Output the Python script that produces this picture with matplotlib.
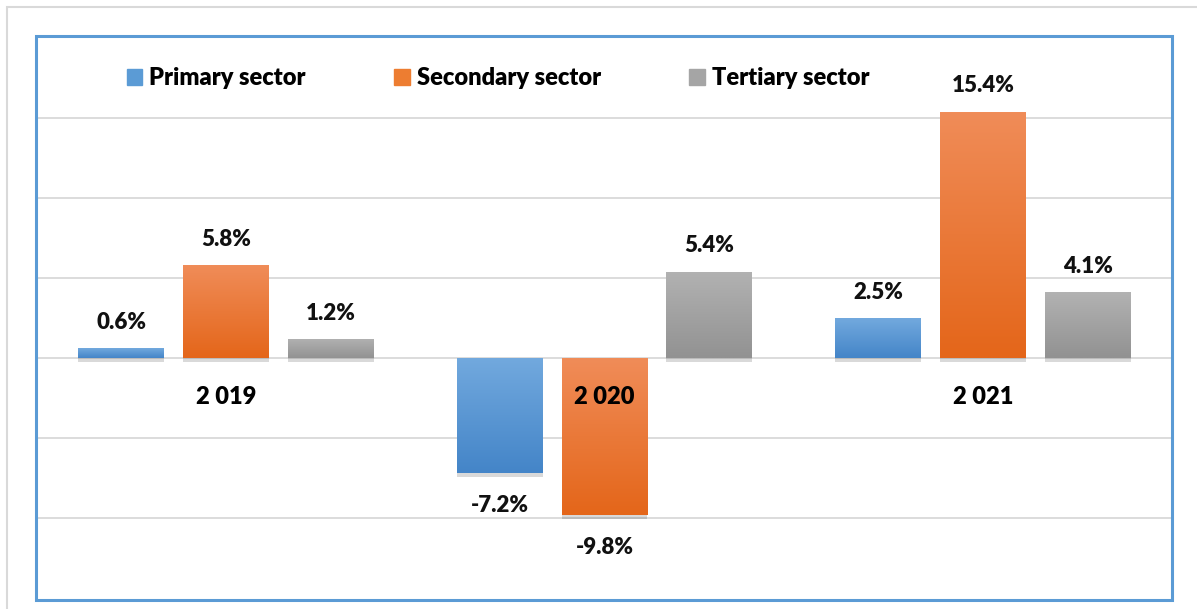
import numpy as np
import matplotlib.pyplot as plt
import matplotlib.patheffects as pe
from matplotlib.patches import Rectangle
from matplotlib.colors import to_rgb

# data
years = ['2 019', '2 020', '2 021']
sectors = ['Primary sector', 'Secondary sector', 'Tertiary sector']
primary = [0.6, -7.2, 2.5]
secondary = [5.8, -9.8, 15.4]
tertiary = [1.2, 5.4, 4.1]

# gradient colours (top, bottom)
grads = [('#72a9de', '#4485c8'), ('#f08c58', '#e4661a'), ('#b2b2b2', '#929292')]
solid = ['#5b9bd5', '#ed7d31', '#a5a5a5']

plt.rcParams['font.family'] = ['Lato', 'DejaVu Sans']

W, H = 1197, 609
fig = plt.figure(figsize=(W / 100, H / 100), dpi=100)
ax = fig.add_axes([37 / W, 11 / H, (1172 - 37) / W, 560 / H])

x = np.arange(len(years))
width = 0.227
step = 0.277

for i, vals in enumerate([primary, secondary, tertiary]):
    xs = x + (i - 1) * step
    bars = ax.bar(xs, vals, width, color=solid[i], zorder=3,
                  path_effects=[pe.SimplePatchShadow(offset=(0, -3), shadow_rgbFace='k', alpha=0.15),
                                pe.Normal()])
    top, bot = np.array(to_rgb(grads[i][0])), np.array(to_rgb(grads[i][1]))
    t = np.linspace(0, 1, 64)[:, None]
    grad = (top * (1 - t) + bot * t)[:, None, :]
    for b, v in zip(bars, vals):
        x0 = b.get_x()
        y0, y1 = min(0, v), max(0, v)
        im = ax.imshow(grad, extent=(x0, x0 + width, y0, y1), origin='upper',
                       aspect='auto', zorder=4, interpolation='bilinear')
        im.set_clip_path(b)
        if v >= 0:
            ax.annotate(f'{v:.1f}%', (x0 + width / 2, v), xytext=(0, 11),
                        textcoords='offset points', ha='center', va='bottom',
                        fontsize=16, fontweight='heavy', color='#111111', zorder=6)
        else:
            ax.annotate(f'{v:.1f}%', (x0 + width / 2, v), xytext=(0, -16),
                        textcoords='offset points', ha='center', va='top',
                        fontsize=16, fontweight='heavy', color='#111111', zorder=6)

# category labels next to the zero line
for xi, yr in zip(x, years):
    ax.annotate(yr, (xi, 0), xytext=(0, -20), textcoords='offset points',
                ha='center', va='top', fontsize=17, fontweight='heavy', color='black', zorder=6)

ax.set_xlim(-0.5, 2.5)
ax.set_ylim(-15, 20)
ax.set_yticks(range(-10, 16, 5))
ax.yaxis.grid(True, color='#d9d9d9', lw=1.3, zorder=0)
ax.tick_params(left=False, bottom=False, labelleft=False, labelbottom=False)
ax.set_xticks([])
for s in ax.spines.values():
    s.set_visible(False)

handles = [Rectangle((0, 0), 1, 1, color=c) for c in solid]
fig.legend(handles, sectors, loc='center', bbox_to_anchor=(498 / W, (H - 78) / H),
           ncol=3, frameon=False, handlelength=0.65, handleheight=0.65,
           handletextpad=0.3, columnspacing=3.75,
           prop={'size': 17, 'weight': 'heavy'})

# outer and inner frames
fig.add_artist(Rectangle((7 / W, -0.1), 1.2, (H - 7) / H + 0.1, transform=fig.transFigure,
                         fill=False, ec='#d9d9d9', lw=1.5))
fig.add_artist(Rectangle((36 / W, (H - 600) / H), (1172 - 36) / W, 564 / H,
                         transform=fig.transFigure, fill=False, ec='#5b9bd5', lw=2.2, zorder=10))

fig.savefig('out.png', dpi=100)
